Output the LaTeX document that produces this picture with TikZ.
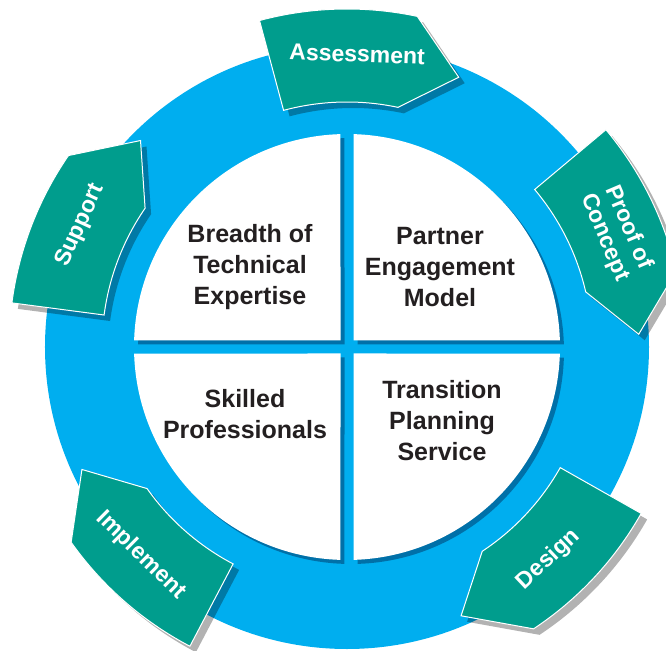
\documentclass[tikz,border=0pt]{standalone}
\usepackage{fontspec}
\setmainfont{Liberation Sans}
\usetikzlibrary{shadows}

\definecolor{ringblue}{RGB}{0,174,239}
\definecolor{tabteal}{RGB}{0,157,141}
\definecolor{ringshade}{RGB}{0,62,110}
\definecolor{labelgray}{RGB}{35,31,32}

\begin{document}
\begin{tikzpicture}[
    x=1pt, y=1pt,
    quad/.style={fill=white, drop shadow={shadow xshift=4pt, shadow yshift=-4pt, color=ringshade, opacity=0.55}},
    tab/.style={fill=tabteal, draw=white, line width=1pt, drop shadow={shadow xshift=6pt, shadow yshift=-6pt, color=black, opacity=0.3}},
    tablabel/.style={text=white, font=\bfseries\fontsize{23}{26}\selectfont, align=center},
    quadlabel/.style={text=labelgray, font=\bfseries\fontsize{25}{31}\selectfont, align=center},
]
    \useasboundingbox (-347,-303) rectangle (319,347);

    % blue ring
    \fill[ringblue] (0,0) circle[radius=302];

    % four white quarters
    \foreach \q in {0,90,180,270}
        \path[quad, rotate=\q] (6.5,6.5) -- (1.75:213) arc[start angle=1.75, end angle=88.25, radius=213] -- cycle;

    \node[quadlabel] (breadth) at (-97,80) {Breadth of\\Technical\\Expertise};
    \node[quadlabel] (partner) at (93,80) {Partner\\Engagement\\Model};
    \node[quadlabel] (skilled) at (-102,-67) {Skilled\\Professionals};
    \node[quadlabel] (transition) at (95,-74) {Transition\\Planning\\Service};

    % arrow tabs round the ring
    \foreach \b/\rot/\name/\txt in {105/-2/assess/Assessment, 40/-67/proof/{Proof of\\Concept},
        -29.5/43.5/design/Design, 242.3/-44.7/implement/Implement, 172.5/65.5/support/Support} {
        \pgfmathsetmacro{\c}{\b-27}
        \pgfmathsetmacro{\t}{\b-37.5}
        \pgfmathsetmacro{\m}{\b-17}
        \path[tab] (\b:245) -- (\b:338) arc[start angle=\b, end angle=\c, radius=338]
            -- (\t:292) -- (\c:245) arc[start angle=\c, end angle=\b, radius=245] -- cycle;
        \node[tablabel, rotate=\rot] (\name) at (\m:293) {\txt};
    }
\end{tikzpicture}
\end{document}
